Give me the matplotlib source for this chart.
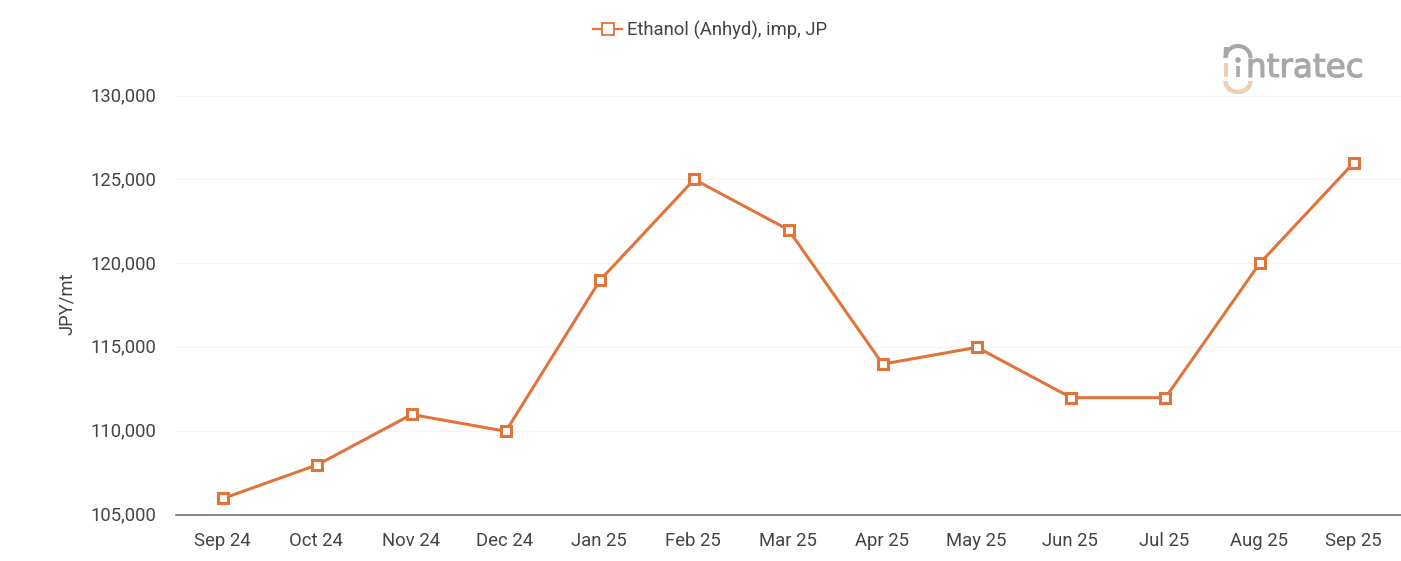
"""Ethanol import price chart with the intratec mark."""

import matplotlib

matplotlib.use("Agg")

import matplotlib.patheffects as pe
import matplotlib.pyplot as plt
from matplotlib.patches import Arc, Circle
from matplotlib.transforms import ScaledTranslation

months = ["Sep 24", "Oct 24", "Nov 24", "Dec 24", "Jan 25", "Feb 25", "Mar 25",
          "Apr 25", "May 25", "Jun 25", "Jul 25", "Aug 25", "Sep 25"]
prices = [106000, 108000, 111000, 110000, 119000, 125000, 122000,
          114000, 115000, 112000, 112000, 120000, 126000]
y_ticks = [105000, 110000, 115000, 120000, 125000, 130000]
series_name = "Ethanol (Anhyd), imp, JP"
y_title = "JPY/mt"

ORANGE = "#e0743a"
TEXT = "#444444"
W, H = 1401, 561

plt.rcParams["font.family"] = ["Roboto", "DejaVu Sans"]

fig = plt.figure(figsize=(W / 100, H / 100), dpi=100)
ax = fig.add_axes([176 / W, 1 - 515.2 / H, (W - 176) / W, (515.2 - 95.5) / H])

ax.plot(range(len(months)), prices, color=ORANGE, lw=2.2, marker="s", ms=7.6,
        mfc="white", mec=ORANGE, mew=2.2, label=series_name, clip_on=False)

ax.set_xlim(-0.5, len(months) - 0.5)
ax.set_ylim(105000, 130000)
ax.set_xticks(range(len(months)), months)
ax.set_yticks(y_ticks, [f"{v:,}" for v in y_ticks])
ax.tick_params(axis="both", length=0, labelsize=13.3, labelcolor=TEXT)
ax.tick_params(axis="x", pad=12)
ax.tick_params(axis="y", pad=14)
ax.grid(axis="y", color="#f3f3f3", lw=0.8)
ax.set_axisbelow(True)
for side in ["top", "right", "left"]:
    ax.spines[side].set_visible(False)
ax.spines["bottom"].set_color("#666666")
ax.spines["bottom"].set_linewidth(1.1)

# nudge tick labels a pixel or so to sit where the reference has them
for lab in ax.get_yticklabels():
    lab.set_transform(lab.get_transform() + ScaledTranslation(0, 1.5 / 100, fig.dpi_scale_trans))
for lab in ax.get_xticklabels():
    lab.set_transform(lab.get_transform() + ScaledTranslation(-1 / 100, 0, fig.dpi_scale_trans))

fig.text(67 / W, 1 - 304 / H, y_title, rotation=90, ha="center", va="center",
         fontsize=13.3, color=TEXT)

fig.legend(handles=ax.get_lines(), loc="center", bbox_to_anchor=(710 / W, 1 - 30 / H),
           frameon=False, fontsize=13.3, labelcolor=TEXT, handlelength=1.6,
           handletextpad=0.25, markerscale=1.0)
leg_line = fig.legends[0].get_lines()[0]
leg_line.set_linewidth(1.6)
leg_line.set_markersize(8)
leg_line.set_markeredgewidth(1.3)

# logo, overlay axes in pixel coordinates
logo = fig.add_axes([0, 0, 1, 1], facecolor="none")
logo.set_xlim(0, W)
logo.set_ylim(H, 0)
logo.axis("off")
GREY = "#a8a8a8"
TAN = "#eccfb5"
logo.text(1246, 77, "ntratec", fontsize=23.5, color=GREY, va="baseline", ha="left",
          family="DejaVu Sans", path_effects=[pe.withStroke(linewidth=0.8, foreground=GREY)])
logo.add_patch(Circle((1238, 60), 2.8, color=GREY, lw=0))
logo.plot([1238, 1238], [66, 77], color=GREY, lw=2.6, solid_capstyle="butt")
logo.plot([1225.5, 1225.5], [63, 77], color=TAN, lw=3, solid_capstyle="butt")
logo.plot([1225.5, 1225.5], [47, 57], color=GREY, lw=3.2, solid_capstyle="butt")
logo.add_patch(Arc((1238, 58), 25, 24, theta1=180, theta2=360, color=GREY, lw=3))
logo.add_patch(Arc((1238, 81), 25, 22, theta1=0, theta2=180, color=TAN, lw=3.2))

fig.savefig("out.png", dpi=100)
